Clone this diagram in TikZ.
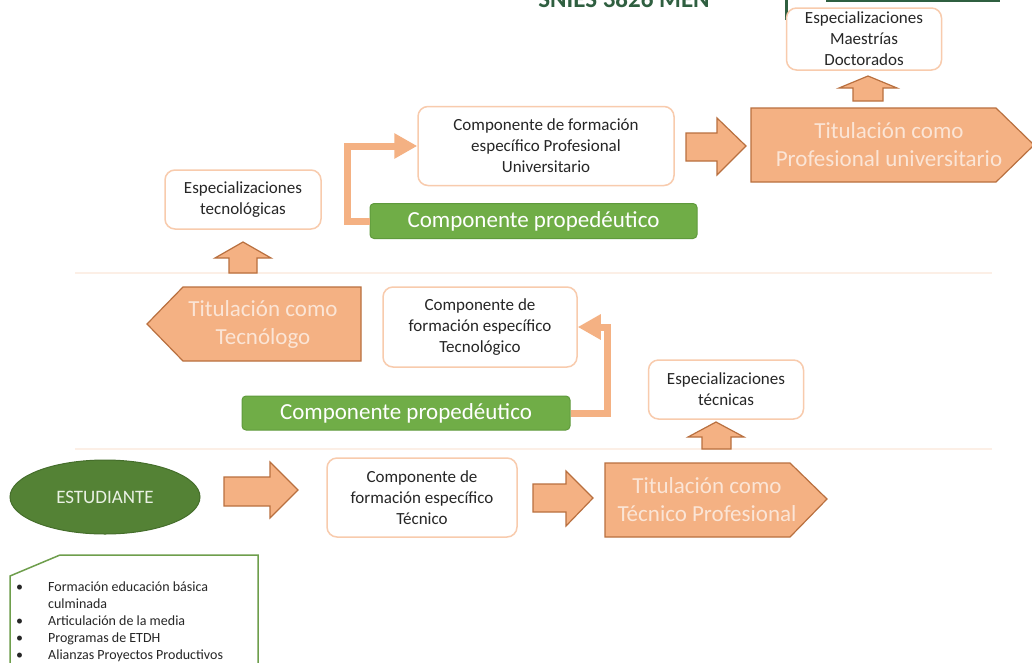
\documentclass[tikz,border=0pt]{standalone}
\usepackage{fontspec}
\setmainfont{Carlito}
\usetikzlibrary{arrows.meta,shapes.geometric}
\definecolor{ofill}{HTML}{F4B183}
\definecolor{oline}{HTML}{B9703F}
\definecolor{obox}{HTML}{F8CBAD}
\definecolor{gfill}{HTML}{70AD47}
\definecolor{gline}{HTML}{5F9A3C}
\definecolor{dgreen}{HTML}{548235}
\definecolor{dgline}{HTML}{456E2B}
\definecolor{ttxt}{HTML}{FBE5D6}
\definecolor{btxt}{HTML}{262626}
\definecolor{sepc}{HTML}{FCEFE6}
\definecolor{snies}{HTML}{2F5F40}
\definecolor{listg}{HTML}{6E9E4C}
\begin{document}
\begin{tikzpicture}[x=1pt,y=-1pt,
  wbox/.style={draw=obox, line width=1.5pt, fill=white, rounded corners=10pt, align=center, text=btxt, font=\fontsize{17}{21}\selectfont, inner sep=0pt},
  gbox/.style={draw=gline, line width=1pt, fill=gfill, rounded corners=4pt, text=white, font=\fontsize{23}{28}\selectfont, inner sep=0pt},
  blk/.style={draw=oline, line width=1.2pt, fill=ofill, line join=miter},
  ttl/.style={text=ttxt, align=center, font=\fontsize{23}{28}\selectfont, inner sep=0pt},
  larrow/.style={draw=ofill, line width=7pt, -{Triangle[length=23pt,width=24pt]}},
  sepline/.style={draw=sepc, line width=1.5pt},
]
\useasboundingbox (0,0) rectangle (1032,662);
\clip (0,0) rectangle (1032,662);
\fill[white] (0,0) rectangle (1032,662);

% top cropped title and green frame lines
\node[anchor=base, text=snies, font=\bfseries\fontsize{25}{30}\selectfont, inner sep=0pt] (snies) at (624,7) {SNIES 3826 MEN};
\draw[draw=snies, line width=3pt] (786,-2) -- (786,20);
\draw[draw=snies, line width=1.5pt] (826,1) -- (1000,1);

% separators
\draw[sepline] (75,273) -- (992,273);
\draw[sepline] (75,449) -- (992,449);

% ---------- top level ----------
\node[wbox, minimum width=155pt, minimum height=62pt] (espMD) at (864,39) {Especializaciones\\Maestrías\\Doctorados};
\draw[blk] (853,101) -- (853,88) -- (839,88) -- (868,76) -- (897,88) -- (883,88) -- (883,101) -- cycle;
\draw[blk] (751,108) -- (996,108) -- (1034,145) -- (996,182) -- (751,182) -- cycle;
\node[ttl] (titPU) at (889,145) {Titulación como\\Profesional universitario};
\draw[blk] (686,133) -- (717,133) -- (717,118) -- (746,146) -- (717,175) -- (717,161) -- (686,161) -- cycle;
\node[wbox, minimum width=256pt, minimum height=79pt] (cfp) at (546,146) {Componente de formación\\específico Profesional\\Universitario};
\node[gbox, minimum width=327pt, minimum height=35pt] (prop1) at (533.5,221) {Componente propedéutico};
\draw[larrow] (prop1.west) -- ++(-22,0) |- (cfp.west);
\node[wbox, minimum width=156pt, minimum height=59pt] (espTec) at (243,199.5) {Especializaciones\\tecnológicas};
\draw[blk] (229,273) -- (229,258) -- (215,258) -- (243,242) -- (271,258) -- (257,258) -- (257,273) -- cycle;

% ---------- middle level ----------
\draw[blk] (361,287) -- (183,287) -- (147,324) -- (183,361) -- (361,361) -- cycle;
\node[ttl] (titTec) at (263,324) {Titulación como\\Tecnólogo};
\node[wbox, minimum width=194pt, minimum height=80pt] (cbt) at (480,327) {Componente de\\formación específico\\Tecnológico};
\node[gbox, minimum width=328pt, minimum height=34pt] (prop2) at (406,413) {Componente propedéutico};
\draw[larrow] (prop2.east) -- ++(37,0) |- (cbt.east);
\node[wbox, minimum width=155pt, minimum height=59pt] (espTecn) at (726,389.5) {Especializaciones\\técnicas};
\draw[blk] (702,449) -- (702,437) -- (688,437) -- (716,422) -- (744,437) -- (731,437) -- (731,449) -- cycle;

% ---------- bottom level ----------
\node[ellipse, draw=dgline, line width=1pt, fill=dgreen, minimum width=190pt, minimum height=74pt, inner sep=0pt, text={rgb,255:red,234;green,241;blue,228}, font=\fontsize{19}{23}\selectfont] (est) at (105,497) {ESTUDIANTE};
\draw[blk] (224,477) -- (270,477) -- (270,462) -- (298,490) -- (270,518) -- (270,506) -- (224,506) -- cycle;
\node[wbox, minimum width=190pt, minimum height=79pt] (cbtec) at (422,497.5) {Componente de\\formación específico\\Técnico};
\draw[blk] (533,484) -- (566,484) -- (566,471) -- (593,498) -- (566,526) -- (566,512) -- (533,512) -- cycle;
\draw[blk] (605,463) -- (790,463) -- (827,499) -- (790,537) -- (605,537) -- cycle;
\node[ttl] (titTP) at (707,500) {Titulación como\\Técnico Profesional};

% ---------- bottom-left list ----------
\draw[draw=listg, line width=1.5pt] (10,668) -- (10,576) -- (60,555) -- (258,555) -- (258,668);
\node[anchor=north west, inner sep=0pt, text=btxt, font=\fontsize{14}{17}\selectfont] (lst) at (16,579)
  {\begin{tabular}{@{}p{32pt}@{}l@{}}
  • & Formación educación básica\\
    & culminada\\
  • & Articulación de la media\\
  • & Programas de ETDH\\
  • & Alianzas Proyectos Productivos
  \end{tabular}};
\end{tikzpicture}
\end{document}
